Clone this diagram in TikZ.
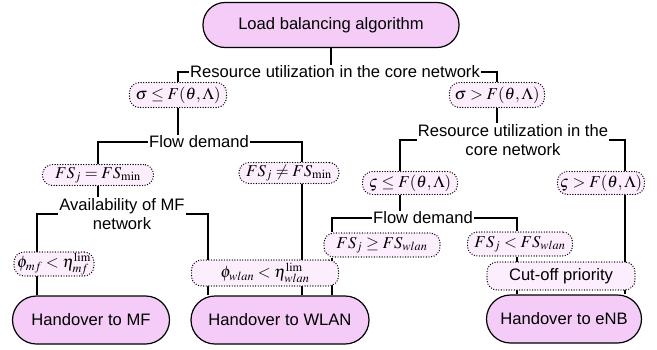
\documentclass[tikz,border=0pt]{standalone}
\usepackage{mathptmx}
\usepackage[no-math]{fontspec}
\setmainfont{Liberation Sans}
\usepackage{tikz}
\usepackage{xcolor}

\definecolor{pillpink}{RGB}{244,204,247}
\definecolor{condpink}{RGB}{253,238,253}

\begin{document}
\begin{tikzpicture}[x=1pt, y=-1pt,
  every node/.style={font=\fontsize{16.6}{18.5}\selectfont},
  pill/.style={draw, line width=1.2pt, fill=pillpink, rounded corners=22pt, minimum height=45pt, inner sep=0pt},
  handover/.style={pill, minimum height=48pt, rounded corners=24pt},
  cond/.style={draw, fill=condpink, dash pattern=on 0pt off 2.6pt, line cap=round, line width=1.4pt, rounded corners=10pt, inner sep=1pt},
  branch/.style={inner sep=1pt},
  link/.style={line width=1.3pt}]
  \useasboundingbox (0,0) rectangle (657,349);

  % Root
  \node[pill, minimum width=256pt] (root) at (331,25) {Load balancing algorithm};

  % First split
  \node[branch] (core) at (335,72) {Resource utilization in the core network};
  \node[cond, minimum width=97pt, minimum height=25pt] (sigle) at (178,95) {$\sigma \le F(\theta,\Lambda)$};
  \node[cond, minimum width=95pt, minimum height=25pt] (siggt) at (497,95) {$\sigma > F(\theta,\Lambda)$};

  % Left branch
  \node[branch] (flowL) at (199,142) {Flow demand};
  \node[cond, minimum width=111pt, minimum height=21pt] (fsmin) at (98,175) {$FS_j = FS_{\min}$};
  \node[cond, minimum width=100pt, minimum height=21pt] (fsnot) at (289,173) {$FS_j \ne FS_{\min}$};
  \node[branch, align=center] (avail) at (122,214) {Availability of MF\\network};

  % Right branch
  \node[branch, align=center] (coreR) at (513,140) {Resource utilization in the\\core network};
  \node[cond, minimum width=95pt, minimum height=23pt] (vsle) at (410,183) {$\varsigma \le F(\theta,\Lambda)$};
  \node[cond, minimum width=87pt, minimum height=23pt] (vsgt) at (601,183) {$\varsigma > F(\theta,\Lambda)$};
  \node[branch] (flowR) at (423,218) {Flow demand};
  \node[cond, minimum width=116pt, minimum height=24pt] (fsge) at (382,245) {$FS_j \ge FS_{wlan}$};
  \node[cond, minimum width=105pt, minimum height=24pt] (fslt) at (520,244) {$FS_j < FS_{wlan}$};

  % Outcomes
  \node[handover, minimum width=157pt] (toMF) at (91,320) {Handover to MF};
  \node[handover, minimum width=178pt] (toWLAN) at (280,320) {Handover to WLAN};
  \node[handover, minimum width=155pt] (toENB) at (564,319) {Handover to eNB};

  % Links
  \draw[link] (root.south) -- (root.south |- core.north);
  \draw[link] (core.west) -| (sigle.north);
  \draw[link] (core.east) -| (siggt.north);
  \draw[link] (sigle.south) -- (sigle.south |- flowL.north);
  \draw[link] (flowL.west) -| (fsmin.north);
  \draw[link] (flowL.east) -| ([xshift=13pt]fsnot.north);
  \draw[link] (fsmin.south) -- (fsmin.south |- avail.north);
  \draw[link] (avail.west) -| ([xshift=-54pt]toMF.north);
  \draw[link] (avail.east) -| ([xshift=-72pt]toWLAN.north);
  \draw[link] ([xshift=13pt]fsnot.south) -- ([xshift=13pt]fsnot.south |- toWLAN.north);
  \draw[link] (siggt.south) -- (siggt.south |- coreR.north);
  \draw[link] (coreR.west) -| ([xshift=-10pt]vsle.north);
  \draw[link] (coreR.east) -| ([xshift=24pt]vsgt.north);
  \draw[link] ([xshift=24pt]vsgt.south) -- ([xshift=24pt]vsgt.south |- toENB.north);
  \draw[link] ([xshift=-10pt]vsle.south) -- ([xshift=-10pt]vsle.south |- flowR.north);
  \draw[link] (flowR.west) -| ([xshift=-50pt]fsge.north);
  \draw[link] (flowR.east) -| ([xshift=-3pt]fslt.north);
  \draw[link] ([xshift=-50pt]fsge.south) -- ([xshift=-50pt]fsge.south |- toWLAN.north);
  \draw[link] ([xshift=-3pt]fslt.south) -- ([xshift=-3pt]fslt.south |- toENB.north);

  % Conditions drawn over the links
  \node[cond, minimum width=80pt, minimum height=24pt] (phiMF) at (54,264) {$\phi_{mf} < \eta_{mf}^{\mathrm{lim}}$};
  \node[cond, minimum width=147pt, minimum height=26pt] (phiWLAN) at (265,273) {$\phi_{wlan} < \eta_{wlan}^{\mathrm{lim}}$};
  \node[cond, minimum width=148pt, minimum height=28pt] (cutoff) at (561,276) {Cut-off priority};
\end{tikzpicture}
\end{document}
